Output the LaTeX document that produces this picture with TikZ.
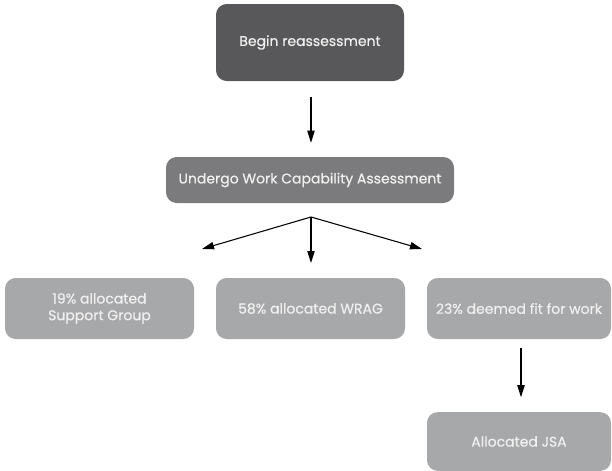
\documentclass[tikz,border=0pt]{standalone}
\usepackage{fontspec}
\setmainfont{Poppins}[FakeBold=0.6]
\usepackage{tikz}
\usetikzlibrary{arrows.meta}
\definecolor{dk}{HTML}{58585A}
\definecolor{md}{HTML}{7B7B7D}
\definecolor{lt}{HTML}{A7A8AA}
\begin{document}
\begin{tikzpicture}[x=0.75pt, y=-0.75pt,
  box/.style={rounded corners=8pt, text=white!94!black, align=center, inner sep=0pt, font=\fontsize{10.5}{12.5}\selectfont},
  arr/.style={line width=0.8pt, -{Triangle[length=9pt, width=5.5pt]}}]
\useasboundingbox (0,0) rectangle (612,471);
\node[box, fill=dk, minimum width=141pt, minimum height=57.75pt] (begin) at (310,42.5) {Begin reassessment};
\node[box, fill=md, minimum width=216pt, minimum height=34.5pt] (wca) at (310,180) {Undergo Work Capability Assessment};
\node[box, fill=lt, minimum width=141.75pt, minimum height=45.75pt] (support) at (99.5,308.5) {19\% allocated\\Support Group};
\node[box, fill=lt, minimum width=141.75pt, minimum height=45.75pt] (wrag) at (310.5,308.5) {58\% allocated WRAG};
\node[box, fill=lt, minimum width=138pt, minimum height=45.75pt] (fit) at (519,308.5) {23\% deemed fit for work};
\node[box, fill=lt, minimum width=138pt, minimum height=44pt] (jsa) at (519,441.5) {Allocated JSA};
\coordinate (fork) at (311,217);
\coordinate (tipl) at (202,249);
\coordinate (tipm) at (311,263);
\coordinate (tipr) at (422,249);
\draw[arr, shorten <=12pt, shorten >=10.5pt] (begin.south -| fork) -- (wca.north -| fork);
\foreach \t in {tipl,tipm,tipr}{
\draw[arr] (fork) -- (\t);
}
\draw[arr, shorten <=6.75pt, shorten >=11pt] (fit.south -| 521,0) -- (jsa.north -| 521,0);
\end{tikzpicture}
\end{document}
